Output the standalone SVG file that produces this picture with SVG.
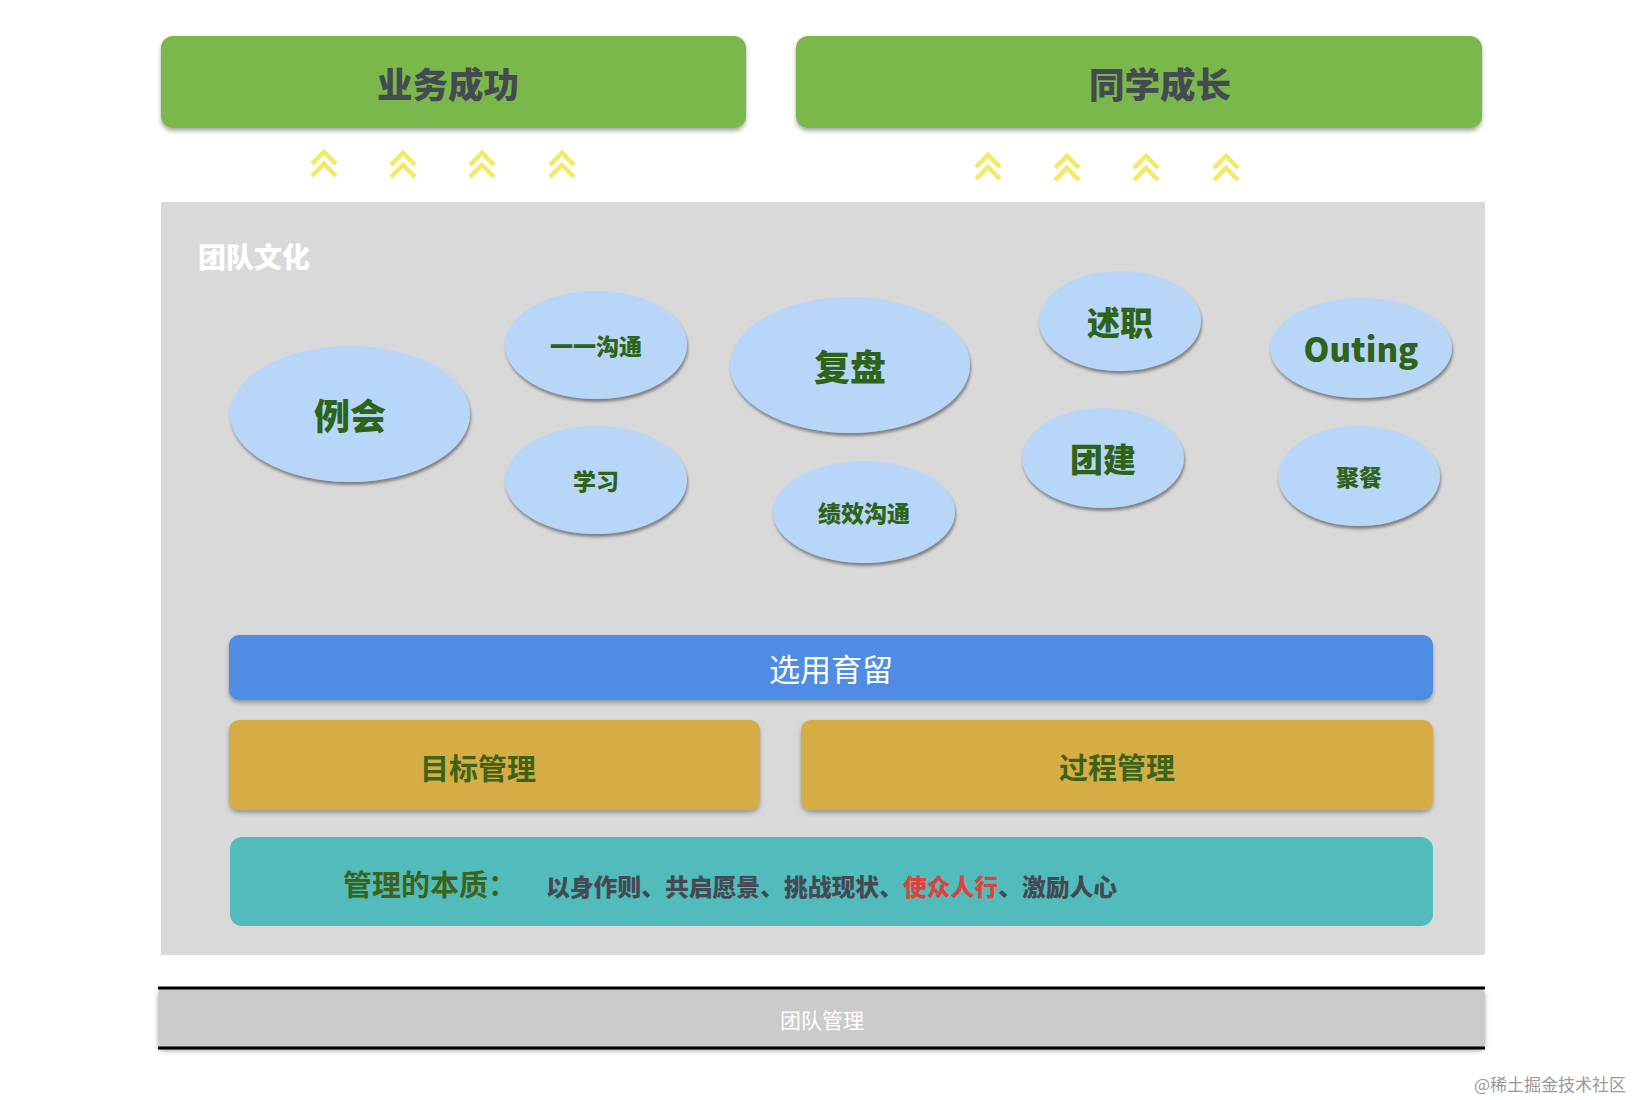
<svg xmlns="http://www.w3.org/2000/svg" width="1632" height="1100" viewBox="0 0 1632 1100">
<defs>
<style>
.cjk{font-family:"Noto Sans CJK SC","Noto Sans",sans-serif}
.heavy{font-weight:900}
.bub{fill:#b8d7f8;filter:url(#sh)}
.bt{fill:#2e6319;font-weight:900;text-anchor:middle;dominant-baseline:central}
.chev{fill:none;stroke:#f2e967;stroke-width:4.5;stroke-linecap:butt;stroke-linejoin:miter}
</style>
<filter id="sh" x="-20%" y="-20%" width="140%" height="150%">
<feDropShadow dx="1" dy="3" stdDeviation="1.8" flood-color="#444" flood-opacity="0.6"/>
</filter>
<filter id="bsh" x="-5%" y="-20%" width="110%" height="150%">
<feDropShadow dx="0" dy="3" stdDeviation="2" flood-color="#444" flood-opacity="0.45"/>
</filter>
<g id="dchev">
<path class="chev" d="M-12,6 L0,-6 L12,6"/>
<path class="chev" d="M-12,18 L0,6 L12,18"/>
</g>
</defs>
<rect width="1632" height="1100" fill="#ffffff"/>

<g id="top-goals">
<g id="biz">
<rect x="161" y="36" width="585" height="92" rx="12" fill="#7ab84b" filter="url(#bsh)"/>
<text x="448" y="82" class="cjk heavy" font-size="35.5" fill="#454a52" text-anchor="middle" dominant-baseline="central">业务成功</text>
</g>
<g id="growth">
<rect x="796" y="36" width="686" height="92" rx="12" fill="#7ab84b" filter="url(#bsh)"/>
<text x="1160" y="82" class="cjk heavy" font-size="35.5" fill="#454a52" text-anchor="middle" dominant-baseline="central">同学成长</text>
</g>
</g>

<g id="connectors">
<use href="#dchev" x="324" y="158"/>
<use href="#dchev" x="403" y="159"/>
<use href="#dchev" x="482" y="159"/>
<use href="#dchev" x="562" y="159"/>
<use href="#dchev" x="988" y="161"/>
<use href="#dchev" x="1067" y="162"/>
<use href="#dchev" x="1146" y="162"/>
<use href="#dchev" x="1226" y="162"/>
</g>

<g id="panel">
<rect x="161" y="202" width="1324" height="753" fill="#d9d9d9"/>
<text x="198" y="256" class="cjk heavy" font-size="28" fill="#ffffff" dominant-baseline="central">团队文化</text>
</g>

<g id="n-lihui"><ellipse class="bub" cx="350" cy="414" rx="120" ry="68"/><text class="cjk bt" x="350" y="414" font-size="36">例会</text></g>
<g id="n-11"><ellipse class="bub" cx="596" cy="345" rx="91" ry="54"/><text class="cjk bt" x="596" y="345" font-size="23">一一沟通</text></g>
<g id="n-xuexi"><ellipse class="bub" cx="596" cy="480" rx="91" ry="54"/><text class="cjk bt" x="596" y="480" font-size="23">学习</text></g>
<g id="n-fupan"><ellipse class="bub" cx="850" cy="365" rx="120" ry="68"/><text class="cjk bt" x="850" y="365" font-size="36">复盘</text></g>
<g id="n-jixiao"><ellipse class="bub" cx="864" cy="512" rx="91" ry="51"/><text class="cjk bt" x="864" y="512" font-size="23">绩效沟通</text></g>
<g id="n-shuzhi"><ellipse class="bub" cx="1120" cy="321" rx="81" ry="50"/><text class="cjk bt" x="1120" y="321" font-size="33">述职</text></g>
<g id="n-tuanjian"><ellipse class="bub" cx="1103" cy="458" rx="81" ry="50"/><text class="cjk bt" x="1103" y="458" font-size="33">团建</text></g>
<g id="n-outing"><ellipse class="bub" cx="1361" cy="348" rx="91" ry="50"/><text class="cjk bt" x="1361" y="348" font-size="33">Outing</text></g>
<g id="n-jucan"><ellipse class="bub" cx="1359" cy="476" rx="81" ry="50"/><text class="cjk bt" x="1359" y="476" font-size="23">聚餐</text></g>

<g id="n-xuanyong">
<rect x="229" y="635" width="1204" height="65" rx="10" fill="#4f8de4" filter="url(#bsh)"/>
<text x="831" y="667" class="cjk" font-size="31" fill="#ffffff" text-anchor="middle" dominant-baseline="central">选用育留</text>
</g>
<g id="n-mubiao">
<rect x="229" y="720" width="531" height="90" rx="10" fill="#d6ad45" filter="url(#bsh)"/>
<text x="478" y="767" class="cjk" font-weight="700" font-size="29" fill="#3c6318" text-anchor="middle" dominant-baseline="central">目标管理</text>
</g>
<g id="n-guocheng">
<rect x="801" y="720" width="632" height="90" rx="10" fill="#d6ad45" filter="url(#bsh)"/>
<text x="1117" y="766" class="cjk" font-weight="700" font-size="29" fill="#3c6318" text-anchor="middle" dominant-baseline="central">过程管理</text>
</g>
<g id="n-benzhi">
<rect x="230" y="837" width="1203" height="89" rx="12" fill="#52bbbb"/>
<text x="343" y="883" class="cjk" font-weight="700" font-size="29" fill="#3c6318" dominant-baseline="central">管理的本质：</text>
<text x="546" y="885" class="cjk heavy" font-size="23.8" fill="#454a52" dominant-baseline="central">以身作则、共启愿景、挑战现状、<tspan fill="#e0413a">使众人行</tspan>、激励人心</text>
</g>

<g id="n-tuandui">
<rect x="158" y="988" width="1327" height="60" rx="6" fill="#cbcbcb" filter="url(#bsh)"/>
<line x1="158" y1="988" x2="1485" y2="988" stroke="#000" stroke-width="3"/>
<line x1="158" y1="1048" x2="1485" y2="1048" stroke="#000" stroke-width="3"/>
<text x="822" y="1019" class="cjk" font-size="21" fill="#ffffff" text-anchor="middle" dominant-baseline="central">团队管理</text>
</g>

<text x="1626" y="1083" class="cjk" font-size="17" fill="#999999" text-anchor="end" dominant-baseline="central">@稀土掘金技术社区</text>
</svg>
